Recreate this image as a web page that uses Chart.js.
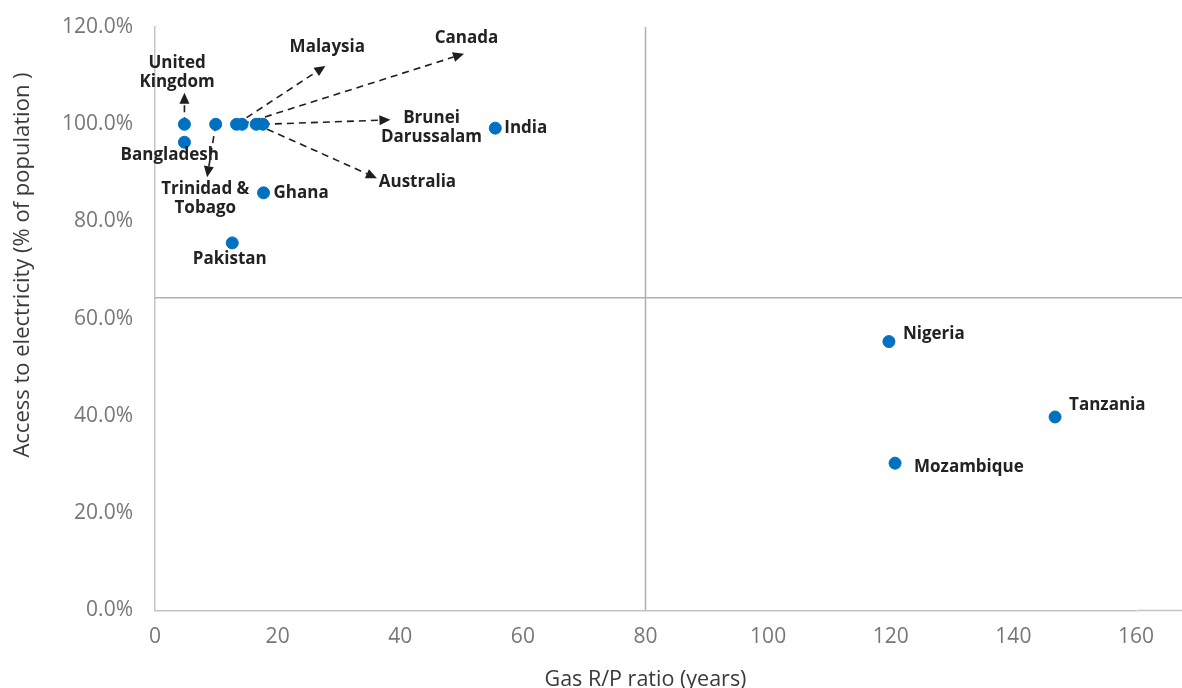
<!DOCTYPE html>
<html>
<head>
<meta charset="utf-8">
<title>Gas R/P ratio vs access to electricity</title>
<script src="https://cdn.jsdelivr.net/npm/chart.js@4/dist/chart.umd.min.js"></script>
<style>
  html, body { margin: 0; padding: 0; background: #ffffff; }
  canvas { display: block; }
</style>
</head>
<body>
<canvas id="chart" width="1182" height="688"></canvas>
<script>
// Country data: gas reserves-to-production ratio (years) and share of population with electricity (%)
const countries = ['United Kingdom', 'Bangladesh', 'Trinidad & Tobago', 'Malaysia', 'Canada', 'Australia',
  'Brunei Darussalam', 'India', 'Ghana', 'Pakistan', 'Nigeria', 'Mozambique', 'Tanzania'];
const gasRP = [4.8, 4.8, 9.9, 13.3, 14.2, 16.5, 17.6, 55.5, 17.7, 12.6, 119.7, 120.7, 146.8];
const electricityAccess = [100, 96.3, 100, 100, 100, 100, 100, 99.2, 85.9, 75.6, 55.3, 30.3, 39.8];

// Axis ticks
const xTicks = [0, 20, 40, 60, 80, 100, 120, 140, 160];
const yTicks = [0, 20, 40, 60, 80, 100, 120];

// Quadrant dividers
const xDivider = 80;
const yDivider = 64.3;
const yDividerEnd = 168;

const xTitle = 'Gas R/P ratio (years)';
const yTitle = 'Access to electricity (% of population )';

// Label placement: callouts sit at a data position (optionally with an arrow tip),
// adjacent labels are offset in pixels from their point.
const labelLayout = {
  'United Kingdom':    { lines: ['United', 'Kingdom'], at: [3.6, 110.7], tip: [4.8, 106.5] },
  'Bangladesh':        { lines: ['Bangladesh'], at: [2.4, 93.7] },
  'Trinidad & Tobago': { lines: ['Trinidad &', 'Tobago'], at: [8.2, 84.6], tip: [8.5, 89.1] },
  'Malaysia':          { lines: ['Malaysia'], at: [28.1, 115.9], tip: [27.8, 112.0] },
  'Canada':            { lines: ['Canada'], at: [50.8, 117.8], tip: [50.4, 114.5] },
  'Australia':         { lines: ['Australia'], at: [42.8, 88.1], tip: [36.2, 88.9] },
  'Brunei Darussalam': { lines: ['Brunei', 'Darussalam'], at: [45.1, 99.2], tip: [38.4, 100.9] },
  'Pakistan':          { lines: ['Pakistan'], at: [12.2, 72.2] },
  'India':             { lines: ['India'], offset: [9, 0] },
  'Ghana':             { lines: ['Ghana'], offset: [10, 0] },
  'Nigeria':           { lines: ['Nigeria'], offset: [14, -7] },
  'Tanzania':          { lines: ['Tanzania'], offset: [14, -12] },
  'Mozambique':        { lines: ['Mozambique'], offset: [19, 4] }
};

const FONT = '"Open Sans", "DejaVu Sans", sans-serif';
const LABEL_FONT = 'bold 17px ' + FONT;
const LABEL_LINE = 19;
const AXIS_GREY = '#c4c4c4';
const TICK_GREY = '#777777';

function drawArrow(ctx, x1, y1, x2, y2) {
  const ang = Math.atan2(y2 - y1, x2 - x1);
  const headLen = 11, headHalf = 5;
  const bx = x2 - headLen * Math.cos(ang);
  const by = y2 - headLen * Math.sin(ang);
  ctx.save();
  ctx.strokeStyle = '#1e1e1e';
  ctx.fillStyle = '#1e1e1e';
  ctx.lineWidth = 1.6;
  ctx.setLineDash([7, 5]);
  ctx.beginPath();
  ctx.moveTo(x1, y1);
  ctx.lineTo(bx, by);
  ctx.stroke();
  ctx.setLineDash([]);
  ctx.beginPath();
  ctx.moveTo(x2, y2);
  ctx.lineTo(bx + headHalf * Math.sin(ang), by - headHalf * Math.cos(ang));
  ctx.lineTo(bx - headHalf * Math.sin(ang), by + headHalf * Math.cos(ang));
  ctx.closePath();
  ctx.fill();
  ctx.restore();
}

const calloutPlugin = {
  id: 'countryCallouts',
  beforeDatasetsDraw(chart) {
    const xs = chart.scales.x, ys = chart.scales.y, ctx = chart.ctx;
    countries.forEach((name, i) => {
      const lay = labelLayout[name];
      if (!lay || !lay.tip) return;
      drawArrow(ctx,
        xs.getPixelForValue(gasRP[i]), ys.getPixelForValue(electricityAccess[i]),
        xs.getPixelForValue(lay.tip[0]), ys.getPixelForValue(lay.tip[1]));
    });
  },
  afterDatasetsDraw(chart) {
    const xs = chart.scales.x, ys = chart.scales.y, ctx = chart.ctx;
    ctx.save();
    ctx.font = LABEL_FONT;
    ctx.fillStyle = '#222222';
    ctx.textBaseline = 'middle';
    countries.forEach((name, i) => {
      const lay = labelLayout[name];
      if (!lay) return;
      let cx, cy;
      if (lay.at) {
        ctx.textAlign = 'center';
        cx = xs.getPixelForValue(lay.at[0]);
        cy = ys.getPixelForValue(lay.at[1]);
      } else {
        ctx.textAlign = 'left';
        cx = xs.getPixelForValue(gasRP[i]) + lay.offset[0];
        cy = ys.getPixelForValue(electricityAccess[i]) + lay.offset[1];
      }
      const n = lay.lines.length;
      lay.lines.forEach((t, k) => {
        ctx.fillText(t, cx, cy + (k - (n - 1) / 2) * LABEL_LINE);
      });
    });
    ctx.restore();
  },
  afterDraw(chart) {
    const ctx = chart.ctx, area = chart.chartArea, ys = chart.scales.y;
    ctx.save();
    // baseline continues past the last tick to the edge
    ctx.strokeStyle = AXIS_GREY;
    ctx.lineWidth = 1.5;
    const y0 = ys.getPixelForValue(0);
    ctx.beginPath();
    ctx.moveTo(area.right + 1.5, y0);
    ctx.lineTo(chart.width, y0);
    ctx.stroke();
    // axis titles
    ctx.fillStyle = '#3a3a3a';
    ctx.font = '21.5px ' + FONT;
    ctx.textAlign = 'center';
    ctx.textBaseline = 'alphabetic';
    ctx.fillText(xTitle, (area.left + area.right) / 2, 686);
    ctx.font = '22px ' + FONT;
    ctx.translate(29, 265);
    ctx.rotate(-Math.PI / 2);
    ctx.fillText(yTitle, 0, 0);
    ctx.restore();
  }
};

const pointData = countries.map((c, i) => ({ x: gasRP[i], y: electricityAccess[i] }));

new Chart(document.getElementById('chart'), {
  type: 'scatter',
  data: {
    datasets: [
      {
        label: 'Countries',
        data: pointData,
        backgroundColor: '#0070C0',
        borderColor: '#0070C0',
        pointRadius: 6,
        pointHoverRadius: 6,
        order: 0
      },
      {
        type: 'line',
        label: 'R/P divider',
        data: [{ x: xDivider, y: 0 }, { x: xDivider, y: yTicks[yTicks.length - 1] }],
        borderColor: '#b0b0b0',
        borderWidth: 1.5,
        pointRadius: 0,
        fill: false,
        order: 2
      },
      {
        type: 'line',
        label: 'Access divider',
        data: [{ x: 0, y: yDivider }, { x: yDividerEnd, y: yDivider }],
        borderColor: '#b0b0b0',
        borderWidth: 1.5,
        pointRadius: 0,
        fill: false,
        clip: false,
        order: 2
      }
    ]
  },
  options: {
    responsive: false,
    animation: false,
    devicePixelRatio: 1,
    layout: { padding: { top: 27, right: 46, left: 0, bottom: 0 } },
    plugins: { legend: { display: false }, tooltip: { enabled: false } },
    scales: {
      x: {
        type: 'linear',
        min: xTicks[0],
        max: xTicks[xTicks.length - 1],
        afterBuildTicks: (s) => { s.ticks = xTicks.map(v => ({ value: v })); },
        afterFit: (s) => { s.height = 77.5; s.paddingLeft = 0; s.paddingRight = 0; },
        grid: { display: false, drawTicks: false },
        border: { display: true, color: AXIS_GREY, width: 1.5 },
        ticks: { color: TICK_GREY, font: { family: FONT, size: 21 }, padding: 14, maxRotation: 0 }
      },
      y: {
        type: 'linear',
        min: yTicks[0],
        max: yTicks[yTicks.length - 1],
        afterBuildTicks: (s) => { s.ticks = yTicks.map(v => ({ value: v })); },
        afterFit: (s) => { s.width = 155; s.paddingTop = 0; s.paddingBottom = 0; },
        grid: { display: false, drawTicks: false },
        border: { display: true, color: AXIS_GREY, width: 1.5 },
        ticks: { color: TICK_GREY, font: { family: FONT, size: 21 }, padding: 22,
          callback: (v) => v.toFixed(1) + '%' }
      }
    }
  },
  plugins: [calloutPlugin]
});
</script>
</body>
</html>
